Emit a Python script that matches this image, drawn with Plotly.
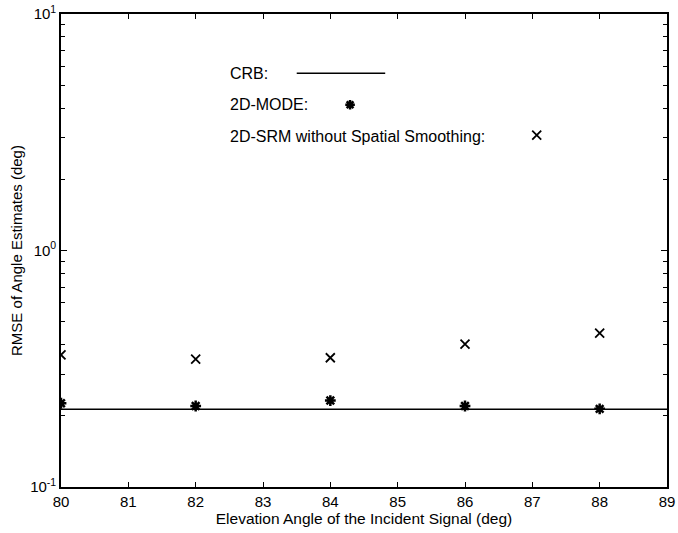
import plotly.graph_objects as go

# Elevation angles of the incident signal (deg)
angles = [80, 82, 84, 86, 88]

# Cramer-Rao bound (flat across the range)
crb_x = [80, 89]
crb_y = [0.213, 0.213]

# RMSE of angle estimates (deg)
mode_rmse = [0.226, 0.220, 0.232, 0.220, 0.214]
srm_rmse = [0.362, 0.347, 0.352, 0.402, 0.447]

x_ticks = [80, 81, 82, 83, 84, 85, 86, 87, 88, 89]
y_ticks = [0.1, 1, 10]
y_ticktext = ["10<sup>-1</sup>", "10<sup>0</sup>", "10<sup>1</sup>"]
y_minor = [m * 10 ** e for e in (-1, 0) for m in range(2, 10)]

legend_labels = ["CRB:", "2D-MODE:", "2D-SRM without Spatial Smoothing:"]

FONT = "Liberation Sans, Arial, Helvetica, sans-serif"

fig = go.Figure()

fig.add_trace(go.Scatter(
    x=crb_x, y=crb_y, mode="lines",
    line=dict(color="black", width=1.5), showlegend=False,
))
fig.add_trace(go.Scatter(
    x=angles, y=mode_rmse, mode="markers",
    marker=dict(symbol="asterisk-open", size=9, color="black",
                line=dict(color="black", width=2.5)),
    showlegend=False,
))
fig.add_trace(go.Scatter(
    x=angles, y=srm_rmse, mode="markers",
    marker=dict(symbol="x-thin-open", size=9, color="black",
                line=dict(color="black", width=1.8)),
    showlegend=False,
))

# Key drawn inside the axes on an overlay frame spanning the plot area
legend_y = [0.875, 0.808, 0.742]
fig.add_trace(go.Scatter(
    x=[0.389, 0.535], y=[legend_y[0]] * 2, mode="lines",
    line=dict(color="black", width=1.5), xaxis="x2", yaxis="y2",
    showlegend=False, hoverinfo="skip",
))
fig.add_trace(go.Scatter(
    x=[0.477], y=[legend_y[1]], mode="markers",
    marker=dict(symbol="asterisk-open", size=8, color="black",
                line=dict(color="black", width=2.5)),
    xaxis="x2", yaxis="y2", showlegend=False, hoverinfo="skip",
))
fig.add_trace(go.Scatter(
    x=[0.785], y=[legend_y[2] + 0.002], mode="markers",
    marker=dict(symbol="x-thin-open", size=9, color="black",
                line=dict(color="black", width=1.8)),
    xaxis="x2", yaxis="y2", showlegend=False, hoverinfo="skip",
))
for label, ly in zip(legend_labels, legend_y):
    fig.add_annotation(
        x=0.276, y=ly, xref="x2", yref="y2", text=label, showarrow=False,
        xanchor="left", yanchor="middle",
        font=dict(family=FONT, size=16, color="black"),
    )

axis_common = dict(
    showgrid=False, zeroline=False, showline=True, linecolor="black",
    linewidth=1.6, mirror="ticks", ticks="inside", tickcolor="black",
    automargin=False,
    tickfont=dict(family=FONT, size=15, color="black"),
)

fig.update_layout(
    width=678, height=533,
    margin=dict(l=61, r=11, t=14, b=46),
    paper_bgcolor="white", plot_bgcolor="white",
    font=dict(family=FONT, color="black"),
    xaxis=dict(
        **axis_common, range=[80, 89], tickvals=x_ticks, ticklen=5,
        title=dict(text="Elevation Angle of the Incident Signal (deg)",
                   font=dict(family=FONT, size=15.5), standoff=0),
    ),
    yaxis=dict(
        **axis_common, type="log", range=[-1, 1], tickvals=y_ticks,
        ticktext=y_ticktext, ticklen=6,
        minor=dict(ticks="inside", ticklen=4, tickcolor="black",
                   tickvals=y_minor, showgrid=False),
        title=dict(text="RMSE of Angle Estimates (deg)",
                   font=dict(family=FONT, size=15), standoff=4),
    ),
    xaxis2=dict(range=[0, 1], overlaying="x", visible=False, fixedrange=True),
    yaxis2=dict(range=[0, 1], overlaying="y", visible=False, fixedrange=True),
)

fig.write_html("out.html")
